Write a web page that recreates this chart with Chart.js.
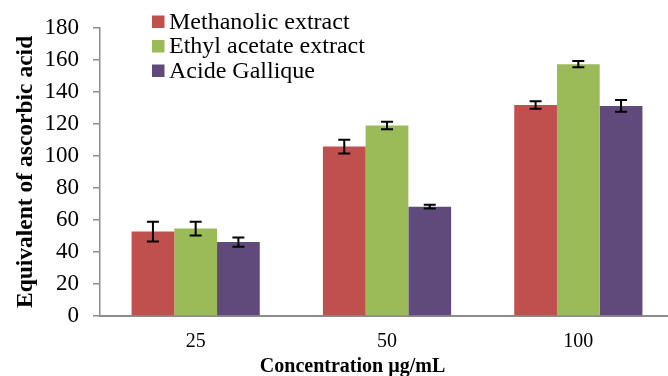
<!DOCTYPE html>
<html>
<head>
<meta charset="utf-8">
<script src="https://cdn.jsdelivr.net/npm/chart.js@4.4.1/dist/chart.umd.min.js"></script>
<style>
  html, body { margin: 0; padding: 0; background: #fff; overflow: hidden; width: 668px; height: 376px; }
</style>
</head>
<body>
<canvas id="myChart" width="674" height="376"></canvas>
<script>
// concentrations (µg/mL)
const labels = ['25', '50', '100'];

const methanolic = [52.7, 105.8, 131.8];
const methanolicErr = [6.2, 4.3, 2.3];

const ethylAcetate = [54.6, 119.0, 157.3];
const ethylAcetateErr = [4.3, 2.4, 2.0];

const gallique = [46.2, 68.3, 131.2];
const galliqueErr = [2.9, 1.2, 3.7];

const yMin = 0, yMax = 180, yStep = 20;

const serif = "'Liberation Serif', 'Times New Roman', serif";
const axisGray = '#8c8c8c';

// error bars drawn from the bar elements + y scale
const errorBars = {
  id: 'errorBars',
  afterDatasetsDraw(chart) {
    const ctx = chart.ctx;
    const y = chart.scales.y;
    ctx.save();
    ctx.strokeStyle = '#000';
    ctx.lineWidth = 2;
    chart.data.datasets.forEach((ds, i) => {
      const meta = chart.getDatasetMeta(i);
      meta.data.forEach((bar, j) => {
        const v = ds.data[j], e = ds.errors[j];
        const top = y.getPixelForValue(v + e);
        const bot = y.getPixelForValue(v - e);
        const x = bar.x, cap = 6;
        ctx.beginPath();
        ctx.moveTo(x, top); ctx.lineTo(x, bot);
        ctx.moveTo(x - cap, top); ctx.lineTo(x + cap, top);
        ctx.moveTo(x - cap, bot); ctx.lineTo(x + cap, bot);
        ctx.stroke();
      });
    });
    ctx.restore();
  }
};

// legend inside the plot, top left
const innerLegend = {
  id: 'innerLegend',
  afterDraw(chart) {
    const ctx = chart.ctx;
    ctx.save();
    ctx.font = '24px ' + serif;
    ctx.textBaseline = 'middle';
    ctx.textAlign = 'left';
    chart.data.datasets.forEach((ds, i) => {
      const cy = 21.5 + i * 24.5;
      ctx.fillStyle = ds.backgroundColor;
      ctx.fillRect(152, cy - 6, 12.5, 12.5);
      ctx.fillStyle = '#000';
      ctx.fillText(ds.label, 169, cy + 1);
    });
    ctx.restore();
  }
};

// x axis title (sits left of the plot centre in the original)
const xTitle = {
  id: 'xTitle',
  afterDraw(chart) {
    const ctx = chart.ctx;
    const a = chart.chartArea;
    ctx.save();
    ctx.font = 'bold 20px ' + serif;
    ctx.fillStyle = '#000';
    ctx.textAlign = 'center';
    ctx.textBaseline = 'middle';
    ctx.fillText('Concentration µg/mL', a.left + (a.right - a.left) * 0.44, 367);
    ctx.restore();
  }
};

const data = {
  labels: labels,
  datasets: [
    { label: 'Methanolic extract', data: methanolic, errors: methanolicErr, backgroundColor: '#C0504D' },
    { label: 'Ethyl acetate extract', data: ethylAcetate, errors: ethylAcetateErr, backgroundColor: '#9BBB59' },
    { label: 'Acide Gallique', data: gallique, errors: galliqueErr, backgroundColor: '#604A7B' }
  ]
};

const config = {
  type: 'bar',
  data: data,
  options: {
    responsive: false,
    animation: false,
    categoryPercentage: 0.67,
    barPercentage: 1.0,
    layout: { padding: { top: 20, right: 0, bottom: 0, left: 0 } },
    plugins: {
      legend: { display: false },
      tooltip: { enabled: false }
    },
    scales: {
      x: {
        afterFit: s => { s.height = 60; },
        grid: { display: false, drawTicks: false },
        border: { display: true, color: axisGray, width: 2 },
        ticks: { color: '#000', font: { family: serif, size: 20 }, padding: 14 }
      },
      y: {
        min: yMin,
        max: yMax,
        afterFit: s => { s.width = 100; },
        grid: { drawOnChartArea: false, drawTicks: true, tickLength: 7, color: axisGray, lineWidth: 1.5 },
        border: { display: true, color: axisGray, width: 1.5 },
        ticks: { stepSize: yStep, color: '#000', font: { family: serif, size: 23 }, padding: 14 },
        title: {
          display: true,
          text: 'Equivalent of ascorbic acid',
          color: '#000',
          font: { family: serif, size: 23.5, weight: 'bold' },
          padding: { top: 12, bottom: 0 }
        }
      }
    }
  },
  plugins: [errorBars, innerLegend, xTitle]
};

const myChart = new Chart(document.getElementById('myChart'), config);
</script>
</body>
</html>
